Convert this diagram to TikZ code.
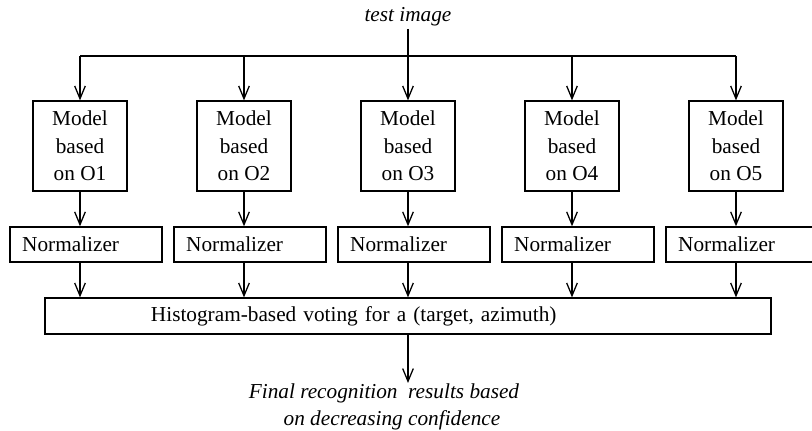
\documentclass[tikz,border=0pt]{standalone}
\usepackage{fontspec}
\setmainfont{Liberation Serif}
\usepackage{tikz}
\usetikzlibrary{arrows.meta}

\tikzset{
  flow/.style={line width=0.6pt, -{Straight Barb[length=6pt,width=5pt,line width=0.6pt]}},
  modelbox/.style={draw, line width=0.6pt, minimum width=44.2pt, minimum height=42.3pt,
    align=center, inner sep=0pt},
  normbox/.style={draw, line width=0.6pt, minimum height=16.5pt, text width=60pt,
    inner xsep=5.7pt, inner ysep=0pt, align=left},
  votebox/.style={draw, line width=0.6pt, minimum height=16.9pt, text width=241.6pt,
    inner xsep=49.8pt, inner ysep=0pt, align=left}
}

\begin{document}
\begin{tikzpicture}[x=0.47pt, y=-0.47pt, font=\fontsize{10}{12.9}\selectfont]
\useasboundingbox (0,0) rectangle (812,431);
%%%%%%%%%%%%%%%%%%%%%%%%%%%%%%%
% input and bus
%%%%%%%%%%%%%%%%%%%%%%%%%%%%%%%
\node [inner sep=1pt] (test) at (408,17) {\itshape test image};
\coordinate (bus) at (408,56);
%
\foreach \i in {1,...,5} {
  \node [modelbox] (model\i) at ({80+164*(\i-1)},146) {Model\\ based\\ on O\i};
  \node [normbox] (norm\i) at ({86+164*(\i-1)},244.5) {Normalizer};
}
\node [votebox] (vote) at (408,316) {Histogram-based voting for a (target, azimuth)};
\node [align=center, anchor=north, inner sep=0pt, font=\fontsize{10}{12.9}\selectfont\itshape]
  (final) at (384,383) {Final recognition\ \ results based\\ \ \ \ on decreasing confidence};
%%%%%%%%%%%%%%%%%%%%%%%%%%%%%%%
% connectors
%%%%%%%%%%%%%%%%%%%%%%%%%%%%%%%
\draw [flow] (test.south) -- (model3.north);
\draw [line width=0.6pt] (model1.north |- bus) -- (model5.north |- bus);
\foreach \i in {1,2,4,5}
  \draw [flow] (model\i.north |- bus) -- (model\i.north);
%
\foreach \i in {1,...,5} {
  \draw [flow] (model\i.south) -- (model\i.south |- norm\i.north);
  \draw [flow] (model\i.south |- norm\i.south) -- (model\i.south |- vote.north);
}
\draw [flow] (vote.south) -- (vote.south |- final.north);
%%%%%%%%%%%%%%%%%%%%%%%%%%%%%%%
\end{tikzpicture}
\end{document}
